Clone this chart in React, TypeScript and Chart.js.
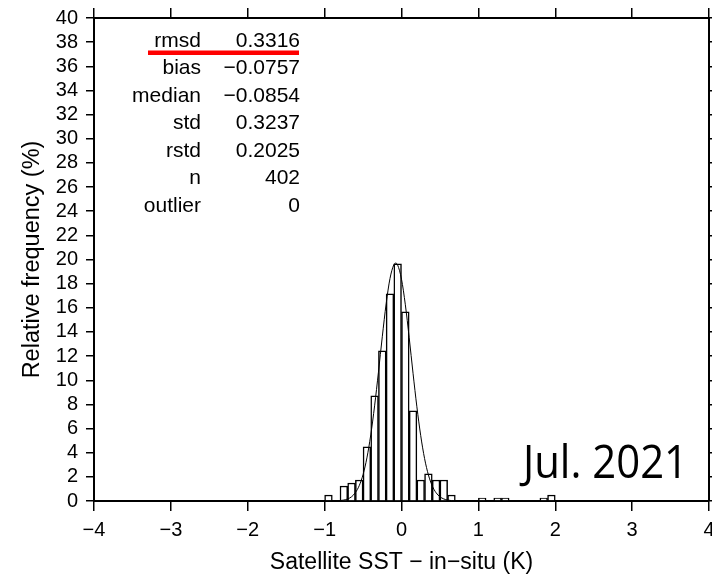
import React, { useEffect, useRef } from "react";
import { Chart, registerables } from "chart.js";

Chart.register(...registerables);

// Histogram bins (bin centres, K) and relative frequency (%)
const binCenters = [-0.95, -0.75, -0.65, -0.55, -0.45, -0.35, -0.25, -0.15, -0.05, 0.05, 0.15, 0.25, 0.35, 0.45, 0.55, 0.65, 1.05, 1.25, 1.35, 1.85, 1.95];
const binPercent = [0.5, 1.24, 1.49, 1.74, 4.48, 8.71, 12.44, 17.16, 19.65, 15.67, 7.46, 1.74, 2.24, 1.74, 1.74, 0.5, 0.25, 0.25, 0.25, 0.25, 0.5];

// Fitted curve
const curveX = [-4, -1.0, -0.9, -0.8, -0.75, -0.7, -0.65, -0.6, -0.55, -0.5, -0.45, -0.4, -0.35, -0.3, -0.25, -0.2, -0.15, -0.1, -0.075, -0.05, 0, 0.05, 0.1, 0.15, 0.2, 0.25, 0.3, 0.35, 0.4, 0.45, 0.5, 0.55, 0.6, 0.7, 0.8, 4];
const curveY = [0, 0, 0.01, 0.03, 0.08, 0.17, 0.35, 0.69, 1.27, 2.19, 3.57, 5.47, 7.88, 10.67, 13.6, 16.32, 18.42, 19.56, 19.7, 19.54, 18.37, 16.25, 13.52, 10.58, 7.8, 5.41, 3.52, 2.16, 1.25, 0.68, 0.35, 0.17, 0.08, 0.01, 0, 0];

// Axes
const xMin = -4;
const xMax = 4;
const yMin = 0;
const yMax = 40;
const xStep = 1;
const yStep = 2;
const xTitle = "Satellite SST \u2212 in\u2212situ (K)";
const yTitle = "Relative frequency (%)";

// Statistics box
const statLabels = ["rmsd", "bias", "median", "std", "rstd", "n", "outlier"];
const statValues = ["0.3316", "\u22120.0757", "\u22120.0854", "0.3237", "0.2025", "402", "0"];
const periodLabel = "Jul. 2021";

const FONT = "'Liberation Sans', Arial, Helvetica, sans-serif";

const fmt = (v: number) => (v < 0 ? "\u2212" + Math.abs(v) : String(v));

const overlayPlugin = {
  id: "overlay",
  afterDraw(chart: any) {
    const ctx = chart.ctx as CanvasRenderingContext2D;
    ctx.save();
    ctx.fillStyle = "#000";
    ctx.font = `21px ${FONT}`;
    ctx.textAlign = "right";
    ctx.textBaseline = "alphabetic";
    statLabels.forEach((l, i) => {
      const y = 46.5 + i * 27.5;
      ctx.fillText(l, 201, y);
      ctx.fillText(statValues[i], 300, y);
    });
    ctx.fillStyle = "#ff0000";
    ctx.fillRect(148, 50.5, 151, 4.5);
    ctx.fillStyle = "#000";
    ctx.font = "46px 'Open Sans', 'Noto Sans', sans-serif";
    ctx.translate(688, 478);
    ctx.scale(0.91, 1);
    ctx.textAlign = "right";
    ctx.fillText(periodLabel, 0, 0);
    ctx.restore();
  },
};

export default function App() {
  const ref = useRef<HTMLCanvasElement>(null);
  useEffect(() => {
    document.body.style.margin = "0";
    const canvas = ref.current!;
    const tickFont = { family: FONT, size: 20 };
    const chart = new Chart(canvas, {
      data: {
        datasets: [
          {
            type: "line",
            data: curveX.map((x, i) => ({ x, y: curveY[i] })),
            borderColor: "#000",
            borderWidth: 1,
            pointRadius: 0,
            cubicInterpolationMode: "monotone",
            order: 0,
            xAxisID: "x",
            yAxisID: "y",
          } as any,
          {
            type: "bar",
            data: binCenters.map((x, i) => ({ x, y: binPercent[i] })),
            backgroundColor: "#fff",
            borderColor: "#000",
            borderWidth: 1.5,
            barPercentage: 1,
            categoryPercentage: 1,
            order: 1,
            xAxisID: "x",
            yAxisID: "y",
          } as any,
        ],
      },
      options: {
        animation: false,
        responsive: false,
        events: [],
        layout: { padding: 0 },
        plugins: { legend: { display: false }, tooltip: { enabled: false }, title: { display: false } },
        scales: {
          x: {
            type: "linear",
            position: "bottom",
            offset: false,
            min: xMin,
            max: xMax,
            ticks: { stepSize: xStep, color: "#000", font: tickFont, padding: 7, autoSkip: false, maxRotation: 0, callback: (v: any) => fmt(Number(v)) },
            grid: { offset: false, drawOnChartArea: false, drawTicks: true, tickLength: 10, color: "#000", lineWidth: 1.5 },
            border: { display: true, color: "#000", width: 2 },
            title: { display: true, text: xTitle, color: "#000", font: { family: FONT, size: 23 }, padding: { top: 0, bottom: 1 } },
            afterFit: (s: any) => { s.height = 76; s.paddingLeft = 0; s.paddingRight = 0; },
          },
          x2: {
            type: "linear",
            position: "top",
            offset: false,
            min: xMin,
            max: xMax,
            ticks: { stepSize: xStep, display: false },
            grid: { offset: false, drawOnChartArea: false, drawTicks: true, tickLength: 10, color: "#000", lineWidth: 1.5 },
            border: { display: true, color: "#000", width: 2 },
            afterFit: (s: any) => { s.height = 18; s.paddingLeft = 0; s.paddingRight = 0; },
          },
          y: {
            type: "linear",
            position: "left",
            min: yMin,
            max: yMax,
            ticks: { stepSize: yStep, color: "#000", font: tickFont, padding: 8, autoSkip: false, callback: (v: any) => fmt(Number(v)) },
            grid: { drawOnChartArea: false, drawTicks: true, tickLength: 8, color: "#000", lineWidth: 1.5 },
            border: { display: true, color: "#000", width: 2 },
            title: { display: true, text: yTitle, color: "#000", font: { family: FONT, size: 23.5 }, padding: { top: 18, bottom: 0 } },
            afterFit: (s: any) => { s.width = 94; s.paddingTop = 0; s.paddingBottom = 0; },
          },
          y2: {
            type: "linear",
            position: "right",
            min: yMin,
            max: yMax,
            ticks: { stepSize: yStep, display: false },
            grid: { drawOnChartArea: false, drawTicks: true, tickLength: 8, color: "#000", lineWidth: 1.5 },
            border: { display: true, color: "#000", width: 2 },
            afterFit: (s: any) => { s.width = 3; s.paddingTop = 0; s.paddingBottom = 0; },
          },
        },
      } as any,
      plugins: [overlayPlugin],
    });
    return () => chart.destroy();
  }, []);
  return (
    <div style={{ position: "absolute", left: 0, top: 0, width: 712, height: 577, background: "#fff" }}>
      <canvas ref={ref} width={712} height={577} style={{ display: "block" }} />
    </div>
  );
}
